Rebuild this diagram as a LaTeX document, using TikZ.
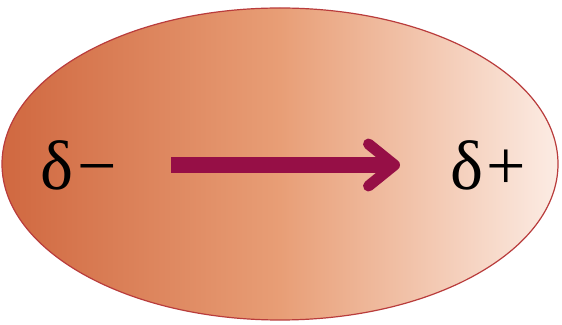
\documentclass[tikz,border=0pt]{standalone}
\usepackage{fontspec}
\setmainfont{Liberation Serif}
\usetikzlibrary{arrows.meta}
\definecolor{leftc}{RGB}{208,104,64}
\definecolor{midc}{RGB}{232,158,118}
\definecolor{rightc}{RGB}{252,236,228}
\definecolor{rimc}{RGB}{185,60,60}
\definecolor{arrowc}{RGB}{150,15,70}
\tikzset{
  charge/.style={font=\fontsize{70}{70}\selectfont, text=black, inner sep=0pt},
  dipole/.style={draw=arrowc, line width=16pt,
    -{Straight Barb[length=26pt,width=42pt,line width=11pt,round]}}
}
\begin{document}
\begin{tikzpicture}[x=1pt,y=1pt]
\useasboundingbox (0,0) rectangle (562,324);
\fill[white] (0,0) rectangle (562,324);
\shade[left color=leftc, right color=rightc, middle color=midc]
  (280,160) ellipse [x radius=278, y radius=156];
\draw[rimc, line width=1.2pt] (280,160) ellipse [x radius=278, y radius=156];
\node[charge, anchor=base west] (minus) at (40,134) {δ\kern4pt−};
\node[charge, anchor=base west] (plus) at (450,134) {δ\kern3pt+};
\coordinate (a) at (171,159);
\coordinate (b) at (400,159);
\draw[dipole] (a) -- (b);
\end{tikzpicture}
\end{document}
